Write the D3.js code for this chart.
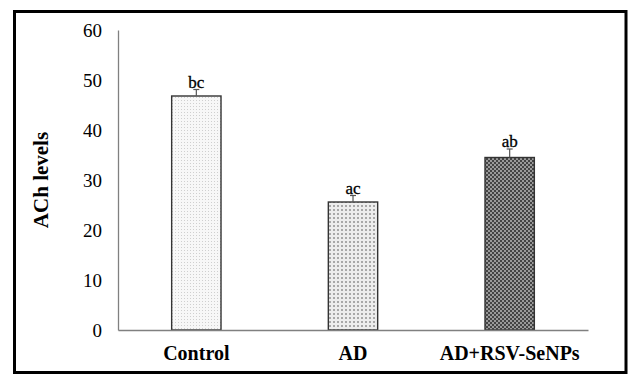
<!DOCTYPE html>
<html><head><meta charset="utf-8">
<script src="https://cdn.jsdelivr.net/npm/d3@7"></script>
<style>body{margin:0;background:#fff}svg{display:block}</style>
</head><body>
<script>
const categories = ["Control", "AD", "AD+RSV-SeNPs"];
const values = [46.8, 25.6, 34.5];
const errors = [1.3, 1.3, 1.7];
const letters = ["bc", "ac", "ab"];
const yTicks = [0, 10, 20, 30, 40, 50, 60];
const patterns = ["pCtrl", "pAD", "pRSV"];

const W = 630, H = 383;
const svg = d3.select("body").append("svg").attr("width", W).attr("height", H);
const defs = svg.append("defs");

// Control: fine light dots
let p = defs.append("pattern").attr("id", "pCtrl").attr("patternUnits", "userSpaceOnUse").attr("width", 3).attr("height", 3);
p.append("rect").attr("width", 3).attr("height", 3).attr("fill", "#f7f7f7");
p.append("rect").attr("x", 1).attr("y", 1).attr("width", 1).attr("height", 1).attr("fill", "#cfcfcf");
// AD: medium grey dot grid
p = defs.append("pattern").attr("id", "pAD").attr("patternUnits", "userSpaceOnUse").attr("width", 4).attr("height", 4);
p.append("rect").attr("width", 4).attr("height", 4).attr("fill", "#ededed");
p.append("rect").attr("x", 1).attr("y", 1).attr("width", 2).attr("height", 2).attr("fill", "#a8a8a8");
// RSV: dark checker
p = defs.append("pattern").attr("id", "pRSV").attr("patternUnits", "userSpaceOnUse").attr("width", 4).attr("height", 4);
p.append("rect").attr("width", 4).attr("height", 4).attr("fill", "#9a9a9a");
p.append("rect").attr("x", 0).attr("y", 0).attr("width", 2).attr("height", 2).attr("fill", "#444");
p.append("rect").attr("x", 2).attr("y", 2).attr("width", 2).attr("height", 2).attr("fill", "#444");

// outer frame
svg.append("rect").attr("x", 14.5).attr("y", 11.5).attr("width", 611.5).attr("height", 361)
  .attr("fill", "none").attr("stroke", "#000").attr("stroke-width", 3);

const x = d3.scaleBand().domain(categories).range([118, 588]).padding(0);
const y = d3.scaleLinear().domain([0, 60]).range([330, 30]);
const bw = x.bandwidth() * 0.315;

// y axis
const yAxis = svg.append("g").attr("transform", "translate(118,0)")
  .call(d3.axisLeft(y).tickValues(yTicks).tickSize(0).tickPadding(16));
yAxis.select(".domain").attr("stroke", "#808080").attr("stroke-width", 1.3);
yAxis.selectAll("text").attr("font-family", "Liberation Serif").attr("font-size", 19).attr("fill", "#000");

// bars
const g = svg.append("g");
categories.forEach((c, i) => {
  const cx = x(c) + x.bandwidth() / 2;
  g.append("rect").attr("x", cx - bw / 2).attr("y", y(values[i]))
    .attr("width", bw).attr("height", y(0) - y(values[i]))
    .attr("fill", `url(#${patterns[i]})`).attr("stroke", "#333").attr("stroke-width", 1.4);
  g.append("line").attr("x1", cx).attr("x2", cx).attr("y1", y(values[i])).attr("y2", y(values[i] + errors[i]))
    .attr("stroke", "#555").attr("stroke-width", 1.2);
  g.append("line").attr("x1", cx - 3).attr("x2", cx + 3).attr("y1", y(values[i] + errors[i])).attr("y2", y(values[i] + errors[i]))
    .attr("stroke", "#555").attr("stroke-width", 1.2);
  g.append("text").attr("x", cx).attr("y", y(values[i] + errors[i]) - 2).attr("text-anchor", "middle")
    .attr("font-family", "Liberation Serif").attr("font-size", 17).attr("fill", "#000")
    .attr("stroke", "#000").attr("stroke-width", 0.3).text(letters[i]);
});

// x axis
const xAxis = svg.append("g").attr("transform", "translate(0,330)")
  .call(d3.axisBottom(x).tickSize(0).tickPadding(16));
xAxis.select(".domain").attr("stroke", "#808080").attr("stroke-width", 1.3);
xAxis.selectAll("text").attr("font-family", "Liberation Serif").attr("font-size", 20)
  .attr("font-weight", "bold").attr("fill", "#000");

// y title
svg.append("text").attr("transform", "translate(48,180) rotate(-90)").attr("text-anchor", "middle")
  .attr("font-family", "Liberation Serif").attr("font-size", 21).attr("font-weight", "bold").text("ACh levels");
</script>
</body></html>
